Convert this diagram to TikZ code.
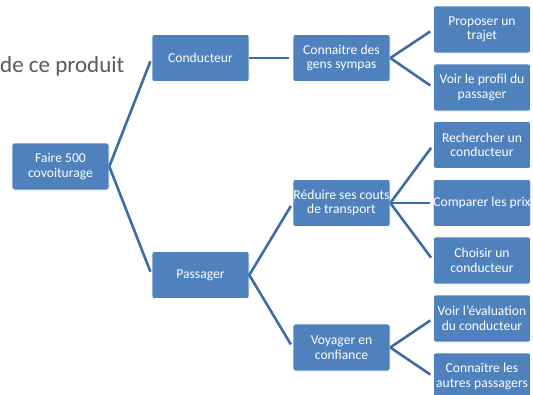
\documentclass[tikz,border=0pt]{standalone}
\usepackage{fontspec}
\setmainfont{Carlito}
\definecolor{boxblue}{HTML}{4F81BD}
\definecolor{linkblue}{HTML}{3E6CA4}
\definecolor{headgray}{HTML}{595959}
\begin{document}
\begin{tikzpicture}[x=1pt,y=-1pt,
  box/.style={rectangle, rounded corners=2.5pt, fill=boxblue, draw=white, line width=0.6pt,
    minimum width=97pt, minimum height=47pt, inner sep=0pt, align=center,
    text=white, font=\fontsize{13.6}{14.5}\selectfont},
  link/.style={draw=linkblue, line width=2.6pt, shorten >=3.5pt}]
\useasboundingbox (0,0) rectangle (533,394);
\clip (0,0) rectangle (533,394);
\node[anchor=base west, inner sep=0pt, text=headgray, font=\fontsize{23}{26}\selectfont] (head) at (0,72) {de ce produit};
% level 1
\node[box] (goal) at (60.5,166.5) {Faire 500\\covoiturage};
% level 2
\node[box] (cond) at (200.5,58) {Conducteur};
\node[box] (pass) at (200.5,275) {Passager};
% level 3
\node[box] (gens) at (341.5,58) {Connaitre des\\gens sympas};
\node[box] (couts) at (341.5,203) {Réduire ses couts\\de transport};
\node[box] (conf) at (341.5,347.5) {Voyager en\\confiance};
% level 4
\node[box] (traj) at (482,29.5) {Proposer un\\trajet};
\node[box] (prof) at (482,87.5) {Voir le profil du\\passager};
\node[box] (rech) at (482,145) {Rechercher un\\conducteur};
\node[box] (prix) at (482,203) {Comparer les prix};
\node[box] (chois) at (482,260.5) {Choisir un\\conducteur};
\node[box] (eval) at (482,318.5) {Voir l’évaluation\\du conducteur};
\node[box] (autres) at (482,376.5) {Connaître les\\autres passagers};
% connectors
\draw[link] (goal.east) -- (cond.west);
\draw[link] (goal.east) -- (pass.west);
\draw[link] (cond.east) -- (gens.west);
\draw[link] (pass.east) -- (couts.west);
\draw[link] (pass.east) -- (conf.west);
\draw[link] (gens.east) -- (traj.west);
\draw[link] (gens.east) -- (prof.west);
\draw[link] (couts.east) -- (rech.west);
\draw[link] (couts.east) -- (prix.west);
\draw[link] (couts.east) -- (chois.west);
\draw[link] (conf.east) -- (eval.west);
\draw[link] (conf.east) -- (autres.west);
\end{tikzpicture}
\end{document}
